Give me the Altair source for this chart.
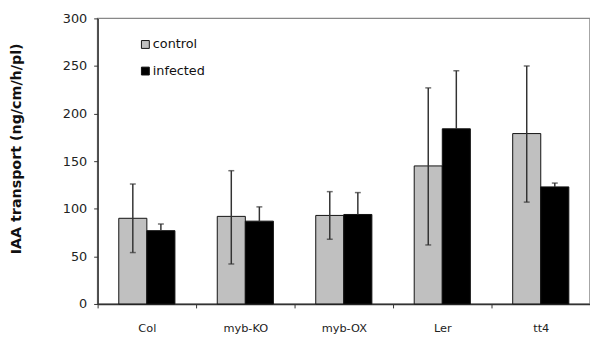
import altair as alt
import pandas as pd

categories = ["Col", "myb-KO", "myb-OX", "Ler", "tt4"]
groups = ["control", "infected"]
control_mean = [90, 92, 93, 145, 179]
control_hi = [126, 140, 118, 227, 250]
control_lo = [54, 42, 68, 62, 107]
infected_mean = [77, 87, 94, 184, 123]
infected_hi = [84, 102, 117, 245, 127]

rows = []
for i, c in enumerate(categories):
    rows.append({"cat": c, "grp": "control", "v": control_mean[i], "lo": control_lo[i], "hi": control_hi[i]})
    rows.append({"cat": c, "grp": "infected", "v": infected_mean[i], "lo": infected_mean[i], "hi": infected_hi[i]})
df = pd.DataFrame(rows)

FONT = "DejaVu Sans"

x = alt.X("cat:N", sort=categories, title=None,
          scale=alt.Scale(paddingInner=0, paddingOuter=0),
          axis=alt.Axis(labelAngle=0, labelFontSize=11.5, labelColor="#222", labelFont=FONT,
                        tickBand="extent", tickSize=4, domainColor="#333", tickColor="#333",
                        labelPadding=15, domainWidth=1.5))
xo = alt.XOffset("grp:N", sort=groups, scale=alt.Scale(paddingInner=0, paddingOuter=0.754))

bars = alt.Chart(df).mark_bar(stroke="#111", strokeWidth=1).encode(
    x=x, xOffset=xo,
    y=alt.Y("v:Q", scale=alt.Scale(domain=[0, 300]),
            title="IAA transport (ng/cm/h/pl)",
            axis=alt.Axis(values=[0, 50, 100, 150, 200, 250, 300], grid=False,
                          labelFontSize=13, labelColor="#222", labelFont=FONT,
                          titleFont=FONT, titleFontSize=14.5, titleFontWeight="bold", titleColor="#111",
                          titleX=-82, titleY=132, titleAlign="center", titleBaseline="middle",
                          titleAngle=-90,
                          tickSize=4, domainColor="#333", tickColor="#333", domainWidth=1.5,
                          labelPadding=7)),
    color=alt.Color("grp:N", sort=groups,
                    scale=alt.Scale(domain=groups, range=["#c0c0c0", "#000000"]),
                    legend=alt.Legend(title=None, orient="none", legendX=42, legendY=20,
                                      symbolType="square", symbolSize=64, symbolStrokeColor="#111",
                                      symbolStrokeWidth=1, labelFontSize=13, labelFont=FONT,
                                      labelColor="#111", labelOffset=1, rowPadding=13, padding=0))
)

err = alt.Chart(df).mark_rule(color="#333", strokeWidth=1.5).encode(
    x=alt.X("cat:N", sort=categories), xOffset=xo,
    y="lo:Q", y2="hi:Q")

cap_hi = alt.Chart(df).mark_tick(color="#333", size=6, thickness=1.5).encode(
    x=alt.X("cat:N", sort=categories), xOffset=xo, y="hi:Q")
cap_lo = alt.Chart(df[df["grp"] == "control"]).mark_tick(color="#333", size=6, thickness=1.5).encode(
    x=alt.X("cat:N", sort=categories), xOffset=xo, y="lo:Q")

chart = alt.layer(bars, err, cap_hi, cap_lo).properties(
    width=500, height=290,
    autosize=alt.AutoSizeParams(type="none"),
    padding={"left": 91, "top": 8, "right": 0, "bottom": 31},
    background="white",
).configure_view(stroke="#888", strokeWidth=1.5)

chart.save("out.html", embed_options={"renderer": "svg", "actions": False})
